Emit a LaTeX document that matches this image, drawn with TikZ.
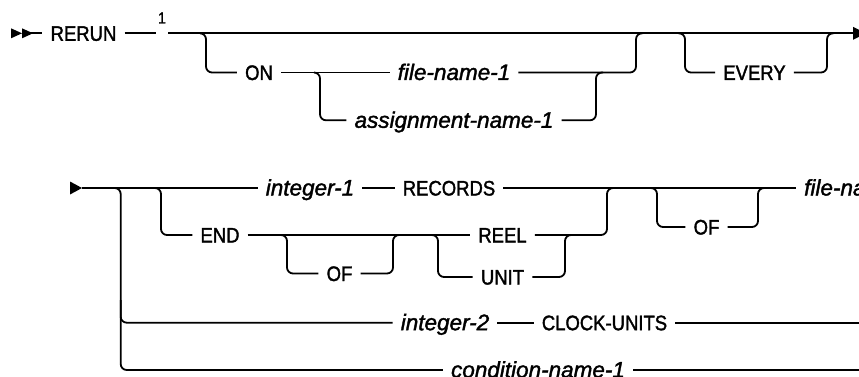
\documentclass[tikz,border=0pt]{standalone}
\usepackage{fontspec}
\setmainfont{Liberation Sans}
\newfontfamily\kwfont[FakeStretch=0.88,FakeBold=1.6]{Liberation Sans}
\newfontfamily\varfont[FakeBold=1.6]{Liberation Sans}
\begin{document}
\begin{tikzpicture}[x=1pt,y=-1pt,
  rail/.style={line width=1.8pt, rounded corners=6pt},
  kw/.style={inner xsep=8pt, inner ysep=0pt, text height=15pt, text depth=0pt,
             font=\kwfont\fontsize{21pt}{24pt}\selectfont},
  var/.style={kw, font=\varfont\fontsize{22.5pt}{25pt}\selectfont\itshape},
  note/.style={inner sep=0pt, anchor=base, font=\kwfont\fontsize{16pt}{18pt}\selectfont}
]
\useasboundingbox (0,0) rectangle (859,377);
\clip (0,0) rectangle (859,377);

% ---------- row 1 ----------
\coordinate (s1) at (22,33.3);
\fill (11,28.3) -- (22,33.3) -- (11,38.3) -- cycle;
\fill (22,28.3) -- (33,33.3) -- (22,38.3) -- cycle;
\node[kw] (rerun) at (83.5,33.3) {RERUN};
\node[note] (fn) at (162,23.5) {1};
\coordinate (e1) at (853,33.3);
\fill (853,26.8) -- (866,33.3) -- (853,39.8) -- cycle;

\draw[rail] (s1) -- (rerun.west);
\draw[rail] (rerun.east) -- ([xshift=-2pt]fn.west |- rerun.east);
\draw[rail] ([xshift=2pt]fn.east |- rerun.east) -- (e1);

% ON group
\coordinate (onL) at (200,33.3);
\coordinate (onR) at (643,33.3);
\node[kw] (on) at (259,72.5) {ON};
\node[var] (fn1) at (454,72.5) {file-name-1};
\node[var] (asg) at (454,120.3) {assignment-name-1};
\coordinate (aL) at (314,72.5);
\coordinate (aR) at (603,72.5);
\draw[rail] (onL) -| (206,72.5) -- (on.west);
\draw[rail] (on.east) -- (fn1.west);
\draw[rail] (fn1.east) -| (636,33.3) -- (onR);
\draw[rail] (aL) -| (320,120.3) -- (asg.west);
\draw[rail] (asg.east) -| (596,72.5) -- (aR);

% EVERY group
\coordinate (evL) at (678,33.3);
\coordinate (evR) at (834,33.3);
\node[kw] (every) at (754.5,72.5) {EVERY};
\draw[rail] (evL) -| (685,72.5) -- (every.west);
\draw[rail] (every.east) -| (827,33.3) -- (evR);

% ---------- row 2 ----------
\coordinate (s2) at (82,188);
\fill (70,181.5) -- (82,188) -- (70,194.5) -- cycle;
\node[var] (int1) at (310,188) {integer-1};
\node[kw] (rec) at (449,188) {RECORDS};
\node[var, anchor=west, inner xsep=0pt] (fnm) at (804,188) {file-name-2};
\draw[rail] (s2) -- (int1.west);
\draw[rail] (int1.east) -- (rec.west);
\draw[rail] (rec.east) -- ([xshift=-8pt]fnm.west);

% END branch
\coordinate (endL) at (155,188);
\coordinate (endR) at (613,188);
\node[kw] (end) at (220,235) {END};
\node[kw] (reel) at (502.5,235) {REEL};
\node[kw] (unit) at (502.5,277) {UNIT};
\node[kw] (of1) at (339.5,273.5) {OF};
\coordinate (of1L) at (280,235);
\coordinate (of1R) at (400,235);
\coordinate (uL) at (432,235);
\coordinate (uR) at (572,235);
\draw[rail] (endL) -| (161,235) -- (end.west);
\draw[rail] (end.east) -- (reel.west);
\draw[rail] (of1L) -| (287,273.5) -- (of1.west);
\draw[rail] (of1.east) -| (393,235) -- (of1R);
\draw[rail] (uL) -| (438,277) -- (unit.west);
\draw[rail] (unit.east) -| (565,235) -- (uR);
\draw[rail] (reel.east) -| (607,188) -- (endR);

% OF group (row 2)
\coordinate (of2L) at (650,188);
\coordinate (of2R) at (765,188);
\node[kw] (of2) at (706.5,227) {OF};
\draw[rail] (of2L) -| (657,227) -- (of2.west);
\draw[rail] (of2.east) -| (758,188) -- (of2R);

% outer alternatives
\coordinate (oL) at (114,188);
\coordinate (oJ) at (120.7,300);
\node[var] (int2) at (445,322.7) {integer-2};
\node[kw] (clk) at (604.5,322.7) {CLOCK-UNITS};
\node[var] (cond) at (538,370) {condition-name-1};
\coordinate (clkE) at (875,322.7);
\coordinate (condE) at (875,370);
\draw[rail] (oL) -| (120.7,370) -- (cond.west);
\draw[rail] (oJ) |- (int2.west);
\draw[rail] (int2.east) -- (clk.west);
\draw[rail] (clk.east) -- (clkE);
\draw[rail] (cond.east) -- (condE);
\end{tikzpicture}
\end{document}
